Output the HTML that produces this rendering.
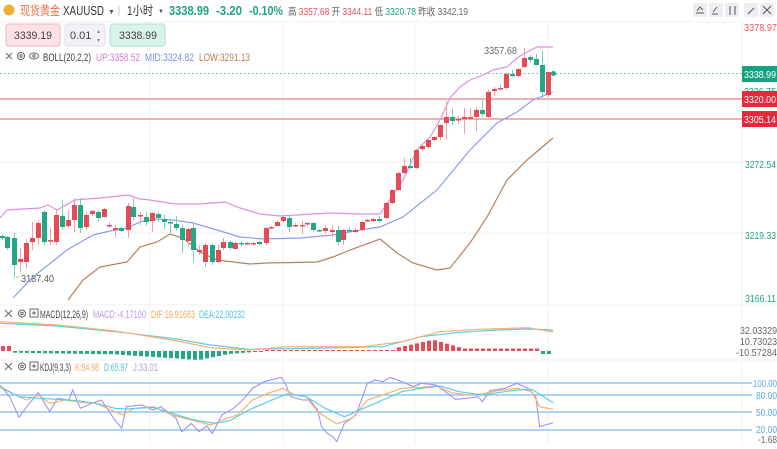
<!DOCTYPE html>
<html><head><meta charset="utf-8"><style>
body{margin:0;width:777px;height:444px;overflow:hidden;background:#fff;font-family:"Liberation Sans","Noto Sans CJK SC",sans-serif;}
svg text{font-family:"Liberation Sans","Noto Sans CJK SC",sans-serif;}
</style></head><body>
<svg id="s" width="777" height="444" xmlns="http://www.w3.org/2000/svg">
<rect width="777" height="444" fill="#fff"/>
<g stroke="#f1f1f1" stroke-width="1">
<line x1="0" y1="22" x2="743" y2="22"/>
<line x1="0" y1="162" x2="743" y2="162"/>
<line x1="0" y1="233" x2="743" y2="233"/>
<line x1="0" y1="305" x2="777" y2="305"/>
<line x1="0" y1="360" x2="777" y2="360"/>
<line x1="150" y1="22" x2="150" y2="444"/>
<line x1="283" y1="22" x2="283" y2="444"/>
<line x1="415" y1="22" x2="415" y2="444"/>
<line x1="548" y1="22" x2="548" y2="444"/>
<line x1="742" y1="22" x2="742" y2="444"/>
</g>
<circle cx="9" cy="10" r="5.5" fill="#f0b030"/>
<text x="20" y="15" font-size="12.5" fill="#e8734a" textLength="40" lengthAdjust="spacingAndGlyphs">现货黄金</text>
<text x="63" y="15" font-size="12.5" fill="#333" textLength="41" lengthAdjust="spacingAndGlyphs">XAUUSD</text>
<text x="108" y="14" font-size="7" fill="#555">▼</text>
<line x1="119" y1="5" x2="119" y2="16" stroke="#ccc"/>
<text x="127" y="15" font-size="12.5" fill="#333" textLength="26" lengthAdjust="spacingAndGlyphs">1小时</text>
<text x="158" y="13" font-size="6" fill="#555">▼</text>
<text x="169" y="15" font-size="12.5" font-weight="bold" fill="#20a383" textLength="40" lengthAdjust="spacingAndGlyphs">3338.99</text>
<text x="216" y="15" font-size="12.5" font-weight="bold" fill="#20a383" textLength="26" lengthAdjust="spacingAndGlyphs">-3.20</text>
<text x="249" y="15" font-size="12.5" font-weight="bold" fill="#20a383" textLength="34" lengthAdjust="spacingAndGlyphs">-0.10%</text>
<text x="288" y="15" font-size="10.5" fill="#666" textLength="180" lengthAdjust="spacingAndGlyphs">高 <tspan fill="#e0505a">3357.68</tspan> 开 <tspan fill="#e0505a">3344.11</tspan> 低 <tspan fill="#20a383">3320.78</tspan> 昨收 3342.19</text>
<g fill="#eceef1">
<rect x="693" y="3" width="14" height="14" rx="2"/><rect x="709" y="3" width="14" height="14" rx="2"/><rect x="725" y="3" width="14" height="14" rx="2"/>
<rect x="744" y="3" width="14" height="14" rx="2"/><rect x="760" y="3" width="14" height="14" rx="2"/>
</g>
<g stroke="#555" stroke-width="1" fill="none">
<path d="M696 13h8M697 11l3-4 3 3"/><path d="M712 14h6M713 12l4-5"/><path d="M730 6v9M735 6v9"/><path d="M748 14l6-6"/><path d="M763 6l8 8M771 6l-8 8"/>
</g>
<rect x="6" y="24" width="54" height="22" rx="3" fill="#fde3e5" stroke="#f3b6bb"/>
<text x="14" y="39" font-size="11" fill="#444" textLength="38" lengthAdjust="spacingAndGlyphs">3339.19</text>
<rect x="65" y="24" width="40" height="22" rx="3" fill="#f0f2f5" stroke="#dde"/>
<text x="70" y="39" font-size="11" fill="#444">0.01</text>
<text x="97" y="33" font-size="6" fill="#888">▴</text><text x="97" y="42" font-size="6" fill="#888">▾</text>
<rect x="110" y="24" width="55" height="22" rx="3" fill="#d9f3ec" stroke="#aee0d1"/>
<text x="119" y="39" font-size="11" fill="#444" textLength="38" lengthAdjust="spacingAndGlyphs">3338.99</text>
<g stroke="#666" fill="none" stroke-width="1">
<path d="M6 53l6 6M12 53l-6 6"/><circle cx="21" cy="56" r="3.5"/><circle cx="21" cy="56" r="1.2"/>
<ellipse cx="34" cy="56" rx="4.5" ry="3"/><circle cx="34" cy="56" r="1.2"/>
</g>
<g font-size="11">
<text x="43" y="61" fill="#444" textLength="48" lengthAdjust="spacingAndGlyphs">BOLL(20,2,2)</text>
<text x="96" y="61" fill="#d77ad6" textLength="44" lengthAdjust="spacingAndGlyphs">UP:3358.52</text>
<text x="145" y="61" fill="#7a8ff0" textLength="49" lengthAdjust="spacingAndGlyphs">MID:3324.82</text>
<text x="199" y="61" fill="#b88050" textLength="51" lengthAdjust="spacingAndGlyphs">LOW:3291.13</text>
</g>
<line x1="0" y1="73.5" x2="742" y2="73.5" stroke="#6fd0b8" stroke-dasharray="2,2"/>
<line x1="0" y1="99" x2="742" y2="99" stroke="#e4606a"/>
<line x1="0" y1="119" x2="742" y2="119" stroke="#e4606a"/>
<g font-size="10.5">
<text x="744" y="31" fill="#e05a64" textLength="33" lengthAdjust="spacingAndGlyphs">3378.97</text>
<rect x="742" y="66" width="35" height="16" fill="#15a37f"/>
<text x="744" y="78" fill="#fff" textLength="32" lengthAdjust="spacingAndGlyphs">3338.99</text>
<text x="744" y="95" fill="#20a383" textLength="32" lengthAdjust="spacingAndGlyphs">3326.75</text>
<rect x="742" y="91" width="35" height="16" fill="#e8283a"/>
<text x="744" y="103" fill="#fff" textLength="32" lengthAdjust="spacingAndGlyphs">3320.00</text>
<rect x="742" y="111" width="35" height="16" fill="#e8283a"/>
<text x="744" y="123" fill="#fff" textLength="32" lengthAdjust="spacingAndGlyphs">3305.14</text>
<text x="745" y="168" fill="#20a383" textLength="31" lengthAdjust="spacingAndGlyphs">3272.54</text>
<text x="745" y="239" fill="#20a383" textLength="31" lengthAdjust="spacingAndGlyphs">3219.33</text>
<text x="745" y="302" fill="#20a383" textLength="31" lengthAdjust="spacingAndGlyphs">3166.11</text>
<text x="21" y="282" fill="#555" textLength="33" lengthAdjust="spacingAndGlyphs">3187.40</text>
<text x="484" y="54" fill="#666" textLength="33" lengthAdjust="spacingAndGlyphs">3357.68</text>
</g>
<line x1="14" y1="277" x2="20" y2="277" stroke="#888" stroke-dasharray="1,1"/>
<g stroke="#666" fill="none" stroke-width="1">
<path d="M5 310l7 7M12 310l-7 7"/><circle cx="22" cy="313.5" r="3.5"/><circle cx="22" cy="313.5" r="1.2"/>
<rect x="30" y="309" width="8" height="8"/><path d="M34 311v4M32 313h4"/>
<path d="M5 363l7 7M12 363l-7 7"/><circle cx="22" cy="366.5" r="3.5"/><circle cx="22" cy="366.5" r="1.2"/>
<rect x="30" y="362" width="8" height="8"/><path d="M34 364v4M32 366h4"/>
</g>
<g font-size="11">
<text x="40" y="318" fill="#444" textLength="48" lengthAdjust="spacingAndGlyphs">MACD(12,26,9)</text>
<text x="93" y="318" fill="#b79ce8" textLength="53" lengthAdjust="spacingAndGlyphs">MACD:-4.17100</text>
<text x="151" y="318" fill="#f5a860" textLength="44" lengthAdjust="spacingAndGlyphs">DIF:19.91683</text>
<text x="199" y="318" fill="#4cc3e0" textLength="46" lengthAdjust="spacingAndGlyphs">DEA:22.00232</text>
<text x="740" y="334" fill="#666" font-size="10.5" textLength="37" lengthAdjust="spacingAndGlyphs">32.03329</text>
<text x="740" y="345" fill="#666" font-size="10.5" textLength="37" lengthAdjust="spacingAndGlyphs">10.73023</text>
<text x="736" y="356" fill="#666" font-size="10.5" textLength="41" lengthAdjust="spacingAndGlyphs">-10.57284</text>
<text x="40" y="371" fill="#444" textLength="31" lengthAdjust="spacingAndGlyphs">KDJ(9,3,3)</text>
<text x="75" y="371" fill="#f5a860" textLength="24" lengthAdjust="spacingAndGlyphs">K:54.98</text>
<text x="104" y="371" fill="#4cc3e0" textLength="24" lengthAdjust="spacingAndGlyphs">D:65.97</text>
<text x="133" y="371" fill="#b79ce8" textLength="25" lengthAdjust="spacingAndGlyphs">J:33.01</text>
</g>
<g stroke="#7bbcf0" stroke-width="1.2">
<line x1="0" y1="383" x2="752" y2="383"/><line x1="0" y1="395" x2="752" y2="395"/><line x1="0" y1="412" x2="752" y2="412"/><line x1="0" y1="430" x2="752" y2="430"/>
</g>
<g font-size="10.5" fill="#5aa8e8">
<text x="753" y="387" textLength="24" lengthAdjust="spacingAndGlyphs">100.00</text><text x="756" y="399" textLength="21" lengthAdjust="spacingAndGlyphs">80.00</text><text x="756" y="416" textLength="21" lengthAdjust="spacingAndGlyphs">50.00</text><text x="756" y="433" textLength="21" lengthAdjust="spacingAndGlyphs">20.00</text><text x="758" y="443" fill="#666" textLength="19" lengthAdjust="spacingAndGlyphs">-1.68</text>
</g>
<g id="dyn"></g>
</svg>
<script>
var NS="http://www.w3.org/2000/svg",g=document.getElementById("dyn");
function el(t,a){var e=document.createElementNS(NS,t);for(var k in a)e.setAttribute(k,a[k]);g.appendChild(e);return e;}
function pl(pts,c,w){el("polyline",{points:pts.map(function(p){return p[0]+","+p[1]}).join(" "),fill:"none",stroke:c,"stroke-width":w||1});}
var C=[[2,236,238,234,240],[7,237,248,236,250],[14,238,265,233,277],[20,262,259,248,272],[26,262,243,239,268],[32,242,238,222,250],[38,238,223,220,245],[44,212,242,210,245],[50,241,240,228,245],[56,242,215,210,245],[62,216,227,200,230],[68,226,220,210,228],[74,220,205,198,232],[80,205,228,198,233],[86,227,215,212,230],[92,214,211,210,216],[98,212,218,210,222],[104,217,209,208,218],[109,226,225,222,228],[115,230,228,225,237],[121,228,231,227,232],[128,230,206,203,238],[133,207,217,198,220],[140,216,215,212,225],[146,217,222,212,226],[152,221,213,212,232],[158,214,218,212,222],[164,219,222,215,229],[170,222,223,219,233],[176,224,228,216,231],[182,228,240,225,253],[188,241,229,228,247],[193,228,250,222,262],[199,252,250,245,255],[205,262,245,243,267],[212,245,262,243,265],[218,262,250,245,263],[223,248,242,238,250],[230,242,248,240,250],[235,249,243,242,250],[241,243,244,241,246],[247,244,243,242,245],[253,244,243,242,245],[259,242,244,241,245],[266,243,228,227,245],[271,228,227,226,229],[277,226,222,220,226],[283,221,217,215,223],[289,218,227,215,232],[295,226,225,223,227],[302,226,225,221,234],[307,224,223,222,226],[313,223,230,222,232],[319,230,231,229,232],[325,231,228,225,234],[332,232,230,225,237],[338,230,242,226,245],[343,240,230,229,245],[349,230,231,228,232],[355,232,230,228,233],[362,230,222,221,231],[367,221,220,219,222],[373,221,219,218,222],[379,219,221,216,222],[386,218,203,202,219],[392,203,190,189,204],[398,190,173,172,191],[404,173,166,158,174],[410,166,168,158,169],[416,168,150,149,169],[422,149,146,145,150],[428,147,140,139,149],[434,140,137,136,141],[440,137,125,124,140],[446,123,117,101,140],[452,117,121,109,125],[458,120,119,116,124],[464,119,117,108,134],[470,118,117,108,120],[476,117,110,107,131],[482,110,114,100,117],[488,117,92,90,118],[494,91,89,87,96],[500,89,88,85,90],[506,88,74,73,90],[512,74,76,70,77],[518,76,69,68,78],[524,67,58,48,68],[530,57,60,55,63],[536,59,65,54,66],[542,65,92,51,98],[548,95,72,72,97],[553,73,74,72,75]];
pl([[0,218],[7,210],[40,208],[48,205],[57,210],[75,200],[100,198],[128,195],[140,199],[150,200],[175,204],[200,204],[225,202],[240,208],[260,214],[280,216],[330,213],[360,214],[380,214],[403,180],[417,150],[430,137],[440,120],[450,98],[460,87],[470,80],[483,75],[493,70],[507,67],[517,58],[527,52],[537,47],[553,47]],"#e38fe0",1.2);
pl([[13,298],[33,277],[67,250],[93,235],[110,231],[127,228],[140,222],[153,219],[173,220],[193,223],[217,230],[240,237],[263,239],[300,238],[333,235],[360,230],[380,227],[403,217],[437,190],[470,150],[497,123],[517,112],[533,100],[553,92]],"#8a9cf2",1.2);
pl([[68,300],[83,280],[100,267],[127,262],[140,247],[157,242],[170,234],[183,238],[200,252],[217,260],[250,264],[267,263],[317,262],[333,257],[350,250],[380,239],[397,253],[413,263],[437,270],[450,268],[470,243],[487,217],[507,180],[527,160],[553,138]],"#b8805a",1.2);
C.forEach(function(c){var up=c[2]<c[1],col=up?"#e44b57":"#22a884";
el("line",{x1:c[0]+.5,y1:c[3],x2:c[0]+.5,y2:c[4],stroke:up?"#f0a0a6":"#80d0bb"});
var t=Math.min(c[1],c[2]),h=Math.max(1.5,Math.abs(c[1]-c[2]));el("rect",{x:c[0]-2,y:t,width:5,height:h,fill:col});});
el("circle",{cx:553.5,cy:73.5,r:2.5,fill:"#22a884"});
function z(a){return a.map(function(p){return [p[0]/2.613,300+p[1]/3]});}
for(var x=1;x<553;x+=6){var v=0;
if(x<11)v=5;else if(x<107)v=-1.5-x/60;else if(x<226){v=x<197?-(3+(x-107)/15):-(9-(x-197)/5);}
else if(x<264)v=-(3-(x-226)/13);else if(x<394)v=1;else if(x<459){v=x<432?3+(x-394)/4.5:11-(x-432)/3.5;}
else if(x<538)v=2.5;else v=-3;
var c=v>0?"#e44b57":"#22a884";el("rect",{x:x,y:v>0?351-v:351,width:4,height:Math.max(1,Math.abs(v)),fill:c});}
pl(z([[0,70],[150,78],[300,95],[450,115],[550,135],[650,148],[900,143],[1000,140],[1100,110],[1200,97],[1300,90],[1380,87],[1445,90]]),"#5ccbe6",1.2);
pl(z([[0,65],[150,75],[300,93],[450,120],[550,143],[650,150],[750,140],[950,140],[1050,125],[1150,95],[1250,88],[1380,83],[1445,96]]),"#f7b070",1.2);
pl(z([[0,255],[25,290],[50,352],[70,320],[100,278],[130,335],[150,295],[180,300],[190,270],[210,325],[240,310],[265,300],[280,325],[300,360],[318,385],[330,320],[370,315],[400,330],[420,320],[460,355],[475,395],[500,370],[520,395],[540,378],[555,400],[580,345],[610,325],[630,305],[660,265],[690,245],[735,232],[745,250],[760,290],[790,300],[810,300],[830,330],[840,380],[855,400],[870,410],[880,425],[900,370],[930,345],[960,250],[980,240],[1000,245],[1020,232],[1050,245],[1080,260],[1100,250],[1140,255],[1150,265],[1170,280],[1190,298],[1220,295],[1250,290],[1260,305],[1280,272],[1320,265],[1350,250],[1380,265],[1400,290],[1410,380],[1425,375],[1445,368]]),"#a98ef0",1.1);
pl(z([[0,258],[40,285],[70,300],[100,285],[130,310],[170,300],[220,308],[250,310],[300,335],[320,345],[350,325],[400,320],[450,345],[500,360],[550,375],[580,360],[620,345],[660,300],[700,280],[740,265],[770,285],[800,290],[830,335],[850,350],[880,372],[920,355],[960,300],[1000,285],[1050,265],[1100,262],[1140,258],[1180,278],[1220,285],[1260,282],[1300,272],[1350,265],[1390,275],[1410,320],[1445,328]]),"#f7b070",1.2);
pl(z([[0,262],[50,290],[100,295],[150,298],[200,302],[250,310],[300,325],[330,327],[400,322],[450,340],[500,358],[560,370],[600,362],[650,330],[700,305],[750,282],[800,290],[850,325],[900,350],[950,325],[1000,300],[1050,275],[1100,265],[1150,258],[1200,275],[1260,285],[1300,278],[1350,270],[1390,268],[1420,290],[1445,308]]),"#5ccbe6",1.2);
</script>
</body></html>
